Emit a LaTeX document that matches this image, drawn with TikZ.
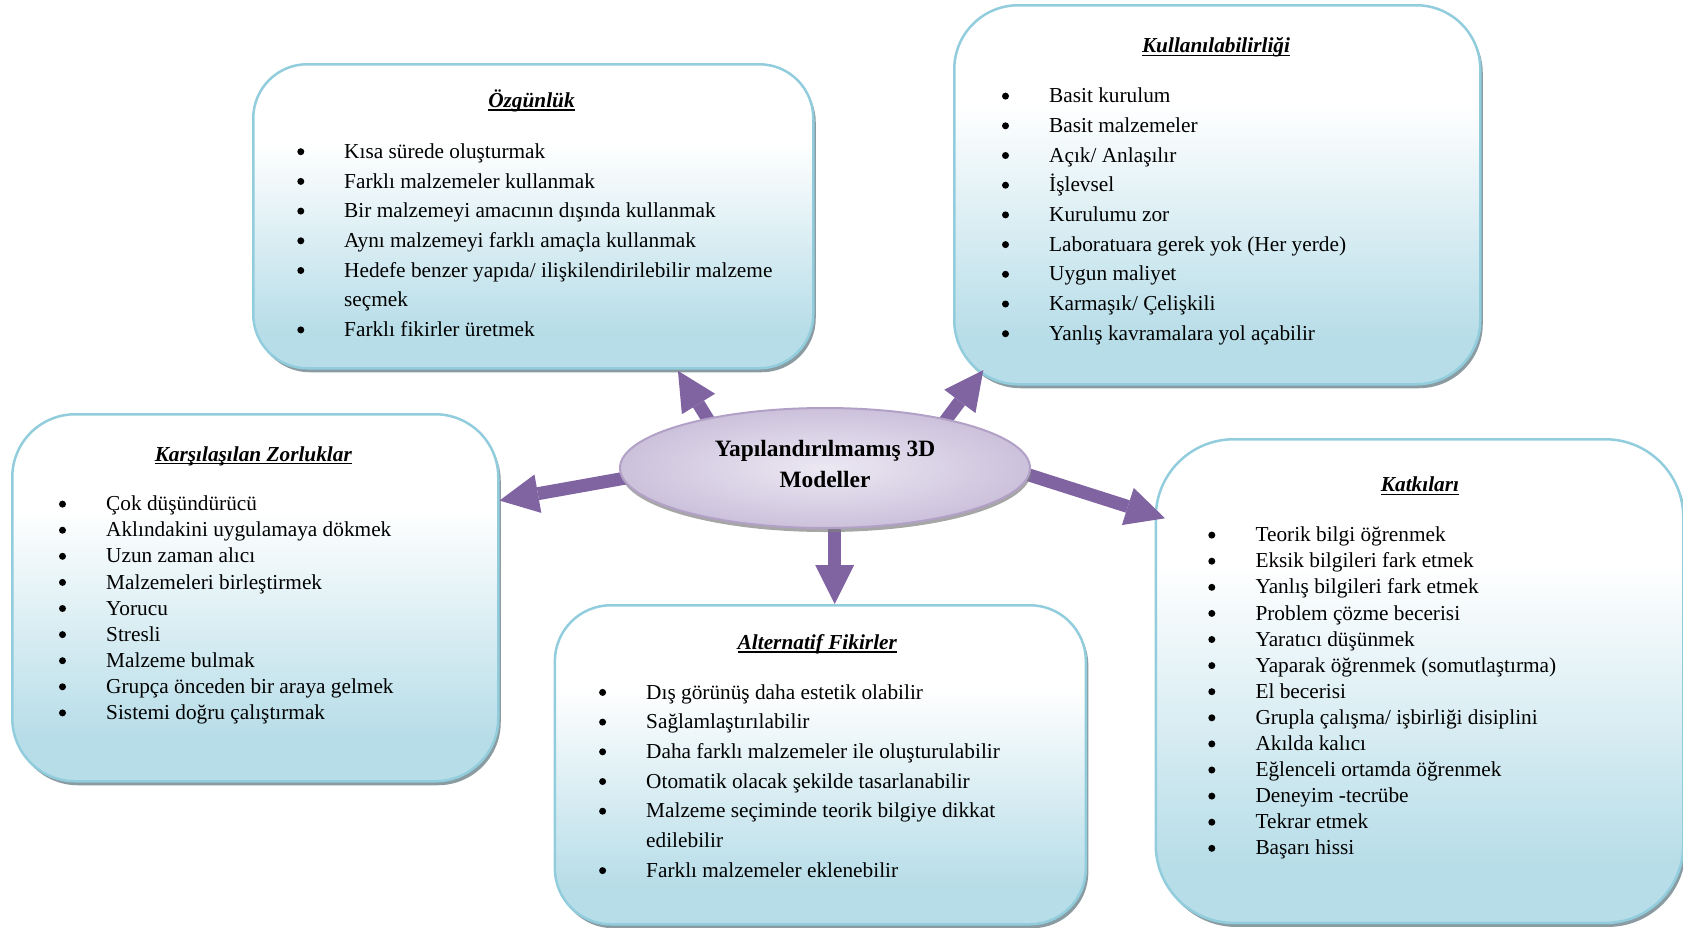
\documentclass[tikz,border=0pt]{standalone}
\usepackage{fontspec}
\setmainfont{Liberation Serif}
\usetikzlibrary{arrows.meta,shadows,calc,shapes.geometric}
\definecolor{boxline}{RGB}{146,205,221}
\definecolor{boxbot}{RGB}{183,221,232}
\definecolor{arrowc}{RGB}{128,100,162}
\definecolor{ellline}{RGB}{178,161,199}
\definecolor{ellin}{RGB}{236,232,243}
\definecolor{ellout}{RGB}{204,193,219}
\definecolor{shadowc}{RGB}{125,145,152}
\pgfdeclareverticalshading{boxshade}{100bp}{color(0bp)=(boxbot); color(31bp)=(boxbot); color(62bp)=(white); color(100bp)=(white)}
\pgfdeclarelayer{bg}
\pgfdeclarelayer{mid}
\pgfsetlayers{bg,mid,main}
\newlength\bulw
\setlength\bulw{47.3pt}
\newcommand\bitem[1]{\hspace*{\bulw}#1}
\newcommand\ttlul[1]{\setbox0\hbox{#1}\rlap{\rule[-3.2pt]{\wd0}{1.3pt}}\box0}
\begin{document}
\begin{tikzpicture}[x=1pt,y=-1pt,
  box/.style={anchor=north west, inner sep=0pt, draw=boxline, line width=2.5pt, shading=boxshade,
    drop shadow={shadow xshift=2.5pt, shadow yshift=-4pt, fill=shadowc, opacity=0.9}},
  ellbox/.style={ellipse, draw=ellline, line width=2pt, inner color=ellin, outer color=ellout,
    minimum width=410pt, minimum height=120pt, inner sep=0pt,
    drop shadow={shadow xshift=1pt, shadow yshift=-4pt, fill=gray, opacity=0.7}},
  ellt/.style={anchor=base, inner sep=0pt, font=\fontsize{23.4}{31}\selectfont\bfseries},
  ttl/.style={anchor=base, inner sep=0pt, font=\fontsize{21.3}{25}\selectfont\bfseries\itshape},
  lstwide/.style={anchor=base west, inner sep=0pt, font=\fontsize{21.3}{29.7}\selectfont},
  lsttight/.style={anchor=base west, inner sep=0pt, font=\fontsize{21.3}{26.1}\selectfont},
  bul/.style={fill=black},
  arr/.style={draw=arrowc, line width=13pt, -{Triangle[length=39pt,width=39pt,line width=0pt]}, shorten <=-6pt}]
\useasboundingbox (0,0) rectangle (1683,927);
\begin{pgfonlayer}{bg}
\node[box, rounded corners=54pt, minimum width=560pt, minimum height=304pt] (ozg) at (252,63) {};
\node[box, rounded corners=64pt, minimum width=526pt, minimum height=379pt] (kul) at (953,4) {};
\node[box, rounded corners=63pt, minimum width=486pt, minimum height=367pt] (kar) at (11,413) {};
\node[box, rounded corners=78pt, minimum width=527.5pt, minimum height=483.7pt] (kat) at (1154.5,438) {};
\node[box, rounded corners=56pt, minimum width=531pt, minimum height=319pt] (alt) at (553.6,604) {};
\end{pgfonlayer}

\node[ellbox] (ell) at (825,468) {};
\node[ellt] (ellT) at (825,456.7) {\begin{tabular}[t]{@{}c@{}}Yapılandırılmamış 3D\\Modeller\end{tabular}};

\begin{pgfonlayer}{mid}
\draw[arr] (ell.157) -- ([xshift=144.7pt,yshift=-1.3pt]ozg.south);
\draw[arr] (ell.22) -- ([xshift=30.3pt,yshift=15.3pt]kul.south west);
\draw[arr] (ell.183) -- ([yshift=97.2pt]kar.east);
\draw[arr] (ell.-2) -- ([xshift=10.5pt,yshift=-80.3pt]kat.north west);
\draw[arr] (ell.-81) -- (ell.-81 |- alt.north);
\end{pgfonlayer}

% bullets
\foreach \r in {0,1,2,3,4,6} \fill[bul] (300.8,151.7+\r*29.7) circle (3.5pt);
\foreach \r in {0,...,8} \fill[bul] (1005.5,96.1+\r*29.7) circle (3.5pt);
\foreach \r in {0,...,8} \fill[bul] (62.5,504.1+\r*26.1) circle (3.5pt);
\foreach \r in {0,...,12} \fill[bul] (1211.8,535.1+\r*26.1) circle (3.5pt);
\foreach \r in {0,1,2,3,4,6} \fill[bul] (602.6,692.4+\r*29.7) circle (3.5pt);

\node[ttl] (ozgT) at (531.5,107.5) {\ttlul{Özgünlük}};
\node[lstwide] (ozgL) at (296.7,158.3) {\begin{tabular}[t]{@{}l@{}}
\bitem{Kısa sürede oluşturmak}\\
\bitem{Farklı malzemeler kullanmak}\\
\bitem{Bir malzemeyi amacının dışında kullanmak}\\
\bitem{Aynı malzemeyi farklı amaçla kullanmak}\\
\bitem{Hedefe benzer yapıda/ ilişkilendirilebilir malzeme}\\
\bitem{seçmek}\\
\bitem{Farklı fikirler üretmek}
\end{tabular}};

\node[ttl] (kulT) at (1216,52.7) {\ttlul{Kullanılabilirliği}};
\node[lstwide] (kulL) at (1001.7,102.7) {\begin{tabular}[t]{@{}l@{}}
\bitem{Basit kurulum}\\
\bitem{Basit malzemeler}\\
\bitem{Açık/ Anlaşılır}\\
\bitem{İşlevsel}\\
\bitem{Kurulumu zor}\\
\bitem{Laboratuara gerek yok (Her yerde)}\\
\bitem{Uygun maliyet}\\
\bitem{Karmaşık/ Çelişkili}\\
\bitem{Yanlış kavramalara yol açabilir}
\end{tabular}};

\node[ttl] (karT) at (253.3,461) {\ttlul{Karşılaşılan Zorluklar}};
\node[lsttight] (karL) at (58.7,510.7) {\begin{tabular}[t]{@{}l@{}}
\bitem{Çok düşündürücü}\\
\bitem{Aklındakini uygulamaya dökmek}\\
\bitem{Uzun zaman alıcı}\\
\bitem{Malzemeleri birleştirmek}\\
\bitem{Yorucu}\\
\bitem{Stresli}\\
\bitem{Malzeme bulmak}\\
\bitem{Grupça önceden bir araya gelmek}\\
\bitem{Sistemi doğru çalıştırmak}
\end{tabular}};

\node[ttl] (katT) at (1420,491.7) {\ttlul{Katkıları}};
\node[lsttight] (katL) at (1208,541.7) {\begin{tabular}[t]{@{}l@{}}
\bitem{Teorik bilgi öğrenmek}\\
\bitem{Eksik bilgileri fark etmek}\\
\bitem{Yanlış bilgileri fark etmek}\\
\bitem{Problem çözme becerisi}\\
\bitem{Yaratıcı düşünmek}\\
\bitem{Yaparak öğrenmek (somutlaştırma)}\\
\bitem{El becerisi}\\
\bitem{Grupla çalışma/ işbirliği disiplini}\\
\bitem{Akılda kalıcı}\\
\bitem{Eğlenceli ortamda öğrenmek}\\
\bitem{Deneyim -tecrübe}\\
\bitem{Tekrar etmek}\\
\bitem{Başarı hissi}
\end{tabular}};

\node[ttl] (altT) at (817.3,649.3) {\ttlul{Alternatif Fikirler}};
\node[lstwide] (altL) at (598.7,699) {\begin{tabular}[t]{@{}l@{}}
\bitem{Dış görünüş daha estetik olabilir}\\
\bitem{Sağlamlaştırılabilir}\\
\bitem{Daha farklı malzemeler ile oluşturulabilir}\\
\bitem{Otomatik olacak şekilde tasarlanabilir}\\
\bitem{Malzeme seçiminde teorik bilgiye dikkat}\\
\bitem{edilebilir}\\
\bitem{Farklı malzemeler eklenebilir}
\end{tabular}};
\end{tikzpicture}
\end{document}
